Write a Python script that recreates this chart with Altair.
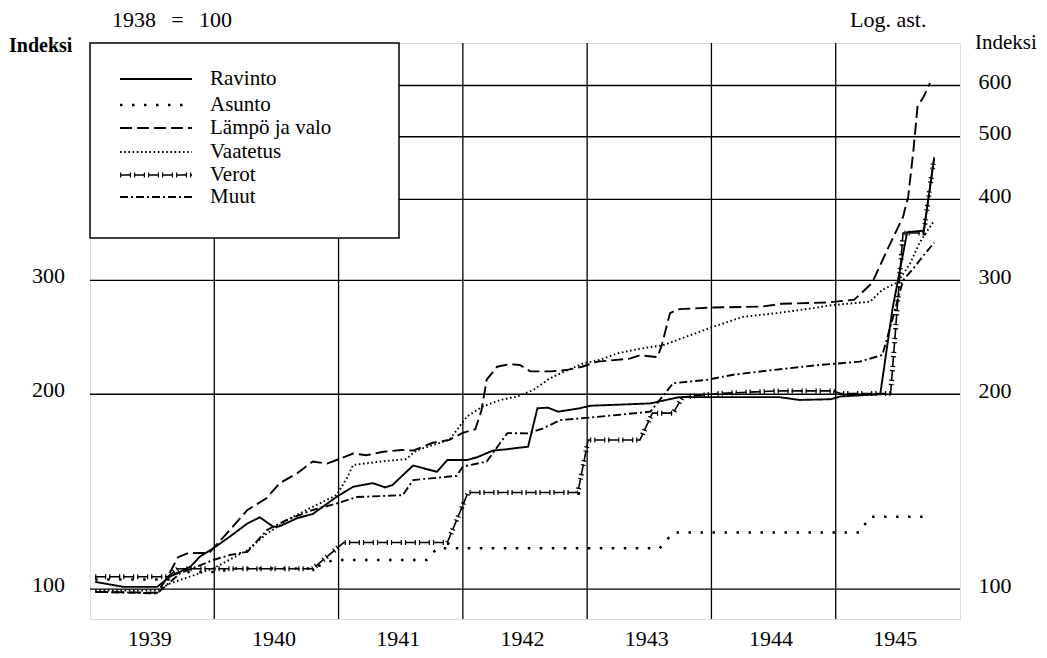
import altair as alt
import pandas as pd

FONT = "Liberation Serif"

# month index: 0 = Jan 1939 ... 81 = Oct 1945 (values: 1938 = 100)
ravinto_m = [0, 2.7, 6, 7.2, 9.2, 10.1, 11.4, 13, 14.7, 15.9, 17.2, 17.8, 19.5, 21, 23.3, 24.9, 26.8, 28,
             28.7, 30.7, 33, 34, 35.9, 36.9, 38.4, 39.8, 41.8, 42.7, 43.7, 44.7, 46.8, 47.8, 50.4, 53.6,
             56.4, 66, 68, 71, 72, 75.8, 77, 78.4, 80, 81]
ravinto_v = [102.6, 100.8, 100.8, 104.5, 108.3, 112.2, 115.6, 120.5, 126.3, 129.1, 124.8, 125, 128.7, 130.6,
             138.8, 143.9, 145.8, 143.6, 144.8, 155.2, 151.8, 158.3, 158.3, 159.9, 163.7, 164.5, 166, 190.3,
             190.7, 188, 190.3, 192, 192.7, 193.6, 198, 198, 196, 196.5, 198.5, 200, 272, 356, 358, 462]

asunto_m = [0, 7.5, 8, 12, 13, 21, 23, 32, 33, 54.5, 55.8, 73.8, 74.8, 80.7]
asunto_v = [103.5, 103.5, 106.3, 106.3, 107.6, 107.6, 110.9, 110.9, 115.6, 115.6, 122.3, 122.3, 129.3, 129.3]

lampo_m = [0, 6, 7, 8, 9, 11, 13, 14.7, 16.5, 17.8, 19.5, 21, 22.4, 23.3, 24.9, 26.2, 27.8, 29.6, 30.7, 32.6,
           34.2, 35.5, 36.7, 37.3, 37.8, 38.8, 40, 41, 42, 44, 45.5, 47, 48.5, 51.6, 52.6, 54.3, 54.7, 55.5,
           56.4, 59.6, 64.4, 66.3, 70.7, 73.3, 75, 76.5, 78, 78.5, 79, 79.4, 80, 80.6]
lampo_v = [99, 98.7, 104.5, 112, 113.7, 113.7, 123.4, 132.5, 138, 145.7, 151, 157.4, 156.3, 158.3, 162, 161,
           163, 164, 163.7, 168.3, 170, 174.4, 176.6, 189, 210.6, 220.6, 222.6, 222, 217, 217, 218, 220.6,
           224.6, 227, 229.8, 228.3, 238, 267, 270.8, 272.3, 273.3, 276, 277.2, 280, 297, 335, 376, 404, 476,
           557, 577, 605]

vaatetus_m = [0, 6, 7.2, 8.2, 11.4, 14.7, 16.6, 19.1, 21, 23.3, 24.3, 24.9, 27.5, 30, 31.1, 34.2, 35.9, 37.4,
              39.1, 40.7, 42.3, 43.9, 45.5, 47.1, 48.7, 50.4, 51.9, 53.6, 54.8, 57.1, 59.3, 62.5, 65.8, 69,
              71.2, 74.8, 76, 77.5, 78.7, 79.6, 81]
vaatetus_v = [99.5, 99.5, 102, 103.3, 107.6, 114.9, 121.9, 129.3, 134, 139.7, 148.3, 155.5, 157.4, 158.8, 164,
              170, 184.8, 191.4, 196, 198.3, 203, 211.7, 217.5, 223.2, 226, 231.3, 234, 236.6, 238, 245.6,
              253, 263.4, 266.9, 271.3, 274.7, 278, 290, 298, 319, 343, 371]

verot_m = [0, 7, 8, 21, 24, 34, 36, 46.6, 47.6, 52.6, 53.8, 55.8, 56.7, 60, 65.8, 71.2, 72, 76.8, 78, 80, 81]
verot_v = [104.5, 104.5, 107.5, 107.5, 118, 118, 141, 141, 170, 170, 187, 187, 198, 200.5, 202.4, 202.4,
           200.5, 200.5, 355, 355, 465]

muut_m = [0, 6, 8.2, 11.4, 13, 14.7, 16.6, 18.5, 21, 23.3, 25.3, 27.5, 29.7, 30.7, 34.9, 35.5, 37.8, 39.8,
          41.7, 43.2, 44.9, 47.1, 50.4, 53.6, 55.8, 59.1, 61.6, 65.4, 69.7, 73.8, 76, 77, 78, 79, 80, 81]
muut_v = [99, 98.5, 105.8, 110.9, 112.9, 114.2, 123.4, 127.9, 132.5, 135.6, 138.8, 139.2, 139.7, 147.4, 149.6,
          154.6, 157.4, 174.2, 174, 177, 182.5, 183.7, 185.8, 188, 208, 210.6, 214.4, 218, 221.8, 224.6, 230,
          262, 300, 313, 328, 343]

series_names = ["Ravinto", "Asunto", "Lämpö ja valo", "Vaatetus", "Verot", "Muut"]
years = [1939, 1940, 1941, 1942, 1943, 1944, 1945]
year_bounds = [11.5, 23.5, 35.5, 47.5, 59.5, 71.5]
grid_values = [100, 200, 300, 400, 500, 600]
left_labels = [100, 200, 300]

W, H = 870, 576
xscale = alt.Scale(domain=[-0.5, 83.5], nice=False, zero=False)
yscale = alt.Scale(type="log", domain=[89.9, 698], nice=False)
xaxis = alt.Axis(values=[5.5 + 12 * i for i in range(len(years))],
                 labelExpr="format(1939 + floor(datum.value / 12), 'd')",
                 ticks=False, domain=False, grid=False, title=None,
                 labelFont=FONT, labelFontSize=22, labelPadding=26, labelBaseline="alphabetic",
                 labelColor="black", labelOffset=-3)
yaxis = alt.Axis(orient="right", values=grid_values, format="d", ticks=False, domain=False,
                 grid=False, title=None, labelFont=FONT, labelFontSize=22, labelPadding=18,
                 labelColor="black", labelOffset=-4, labelBaseline="middle")


def X(field="m"):
    return alt.X(f"{field}:Q", scale=xscale, axis=xaxis)


def Y(field="v"):
    return alt.Y(f"{field}:Q", scale=yscale, axis=yaxis)


one = pd.DataFrame({"a": [0]})

layers = []

# gridlines
layers.append(alt.Chart(pd.DataFrame({"v": grid_values})).mark_rule(color="black", strokeWidth=1.3)
              .encode(y=Y(), x=alt.value(0), x2=alt.value(W)))
layers.append(alt.Chart(pd.DataFrame({"m": year_bounds})).mark_rule(color="black", strokeWidth=1.3)
              .encode(x=X(), y=alt.value(0), y2=alt.value(H)))

# legend box
layers.append(alt.Chart(one).mark_rect(fill="white", stroke="black", strokeWidth=1.5)
              .encode(x=alt.value(0), x2=alt.value(309), y=alt.value(0), y2=alt.value(195)))

styles = {
    "Ravinto": dict(dash=[1, 0], width=1.9),
    "Asunto": dict(dash=[2.5, 9.5], width=2.5),
    "Lämpö ja valo": dict(dash=[12, 5], width=1.9),
    "Vaatetus": dict(dash=[1.6, 2.6], width=1.9),
    "Verot": dict(dash=[11, 3], width=1.6),
    "Muut": dict(dash=[8, 3, 2, 3], width=1.9),
}
data = {
    "Ravinto": (ravinto_m, ravinto_v),
    "Asunto": (asunto_m, asunto_v),
    "Lämpö ja valo": (lampo_m, lampo_v),
    "Vaatetus": (vaatetus_m, vaatetus_v),
    "Verot": (verot_m, verot_v),
    "Muut": (muut_m, muut_v),
}
legend_rows = [36, 62, 85, 109, 132, 154]

for name, ly in zip(series_names, legend_rows):
    m, v = data[name]
    st = styles[name]
    df = pd.DataFrame({"m": m, "v": v})
    layers.append(alt.Chart(df).mark_line(color="black", strokeWidth=st["width"], strokeDash=st["dash"])
                  .encode(x=X(), y=Y()))
    layers.append(alt.Chart(one).mark_rule(color="black", strokeWidth=st["width"], strokeDash=st["dash"])
                  .encode(x=alt.value(30), x2=alt.value(102), y=alt.value(ly)))
    if name == "Verot":
        tick_dash = [1.2, 8.6, 1.2, 3]
        layers.append(alt.Chart(df).mark_line(color="black", strokeWidth=5, strokeDash=tick_dash)
                      .encode(x=X(), y=Y()))
        layers.append(alt.Chart(one).mark_rule(color="black", strokeWidth=5, strokeDash=tick_dash)
                      .encode(x=alt.value(30), x2=alt.value(102), y=alt.value(ly)))
    layers.append(alt.Chart(one).mark_text(text=name, font=FONT, fontSize=21, align="left",
                                           baseline="middle", color="black")
                  .encode(x=alt.value(120), y=alt.value(ly)))

# left axis labels
layers.append(alt.Chart(pd.DataFrame({"v": left_labels})).mark_text(font=FONT, fontSize=22, align="right",
                                                                     baseline="middle", dy=-4, color="black")
              .encode(y=Y(), x=alt.value(-25), text=alt.Text("v:Q", format="d")))

# annotations
texts = [
    ("1938\u2002\u2009=\u2002\u2009100", 82, -16, "center", "normal", 22),
    ("Log. ast.", 760, -16, "left", "normal", 22),
    ("Indeksi", -81, 9, "left", "bold", 20),
    ("Indeksi", 885, 6, "left", "normal", 21),
]
for t, tx, ty, al, fw, fs in texts:
    layers.append(alt.Chart(one).mark_text(text=t, font=FONT, fontSize=fs,
                                           align=al, baseline="alphabetic", fontWeight=fw, color="black")
                  .encode(x=alt.value(tx), y=alt.value(ty)))

chart = alt.layer(*layers).properties(
    width=W, height=H,
    padding={"left": 82, "top": 35, "right": 79, "bottom": 31},
    autosize=alt.AutoSizeParams(type="none"),
).configure_view(stroke="black", strokeWidth=1.6).configure(background="white")

chart.save("out.html", embed_options={"renderer": "svg", "actions": False})
